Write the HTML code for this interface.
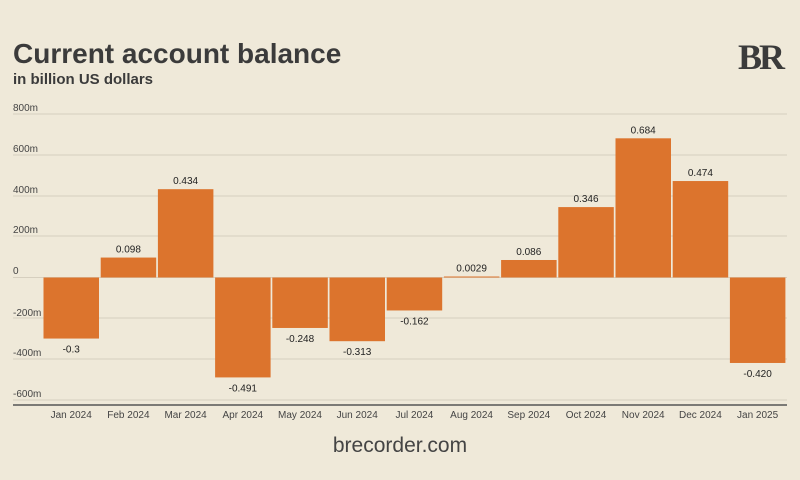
<!DOCTYPE html>
<html><head><style>
body{margin:0;background:#efe9d9;}
svg{display:block;font-family:"Liberation Sans",sans-serif;}
</style></head><body>
<svg width="800" height="480" viewBox="0 0 800 480">
<rect width="800" height="480" fill="#efe9d9"/>
<text x="13" y="63" font-size="28" font-weight="bold" fill="#3b3b3b">Current account balance</text>
<text x="13" y="84" font-size="15" font-weight="bold" fill="#3b3b3b">in billion US dollars</text>
<text x="738" y="69" font-family="Liberation Serif,serif" font-size="36" font-weight="bold" fill="#3b3b3b" letter-spacing="-3">BR</text>
<g stroke="#d6cfbf" stroke-width="1">
<line x1="13" x2="787" y1="114" y2="114"/><line x1="13" x2="787" y1="155" y2="155"/>
<line x1="13" x2="787" y1="196" y2="196"/><line x1="13" x2="787" y1="236" y2="236"/>
<line x1="13" x2="787" y1="277.5" y2="277.5"/><line x1="13" x2="787" y1="318" y2="318"/>
<line x1="13" x2="787" y1="359" y2="359"/><line x1="13" x2="787" y1="400" y2="400"/>
</g>
<line x1="13" x2="787" y1="405" y2="405" stroke="#555" stroke-width="1.5"/>
<g font-size="10" fill="#444">
<text x="13" y="111">800m</text><text x="13" y="152">600m</text><text x="13" y="193">400m</text>
<text x="13" y="233">200m</text><text x="13" y="274">0</text><text x="13" y="316">-200m</text>
<text x="13" y="356">-400m</text><text x="13" y="397">-600m</text>
</g>
<g fill="#dc742d" id="bars"></g>
<g id="labels" font-size="10" fill="#222" text-anchor="middle"></g>
<g id="xl" font-size="10" fill="#444" text-anchor="middle"></g>
<text x="400" y="452" font-size="21" fill="#444" text-anchor="middle">brecorder.com</text>
</svg>
<script>
var v=[-0.3,0.098,0.434,-0.491,-0.248,-0.313,-0.162,0.0029,0.086,0.346,0.684,0.474,-0.420];
var l=["-0.3","0.098","0.434","-0.491","-0.248","-0.313","-0.162","0.0029","0.086","0.346","0.684","0.474","-0.420"];
var m=["Jan 2024","Feb 2024","Mar 2024","Apr 2024","May 2024","Jun 2024","Jul 2024","Aug 2024","Sep 2024","Oct 2024","Nov 2024","Dec 2024","Jan 2025"];
var ns="http://www.w3.org/2000/svg",z=277.5,k=0.2035;
function el(t,a,p,txt){var e=document.createElementNS(ns,t);for(var q in a)e.setAttribute(q,a[q]);if(txt)e.textContent=txt;document.getElementById(p).appendChild(e);}
for(var i=0;i<13;i++){var x=43.5+57.2*i,h=Math.max(Math.abs(v[i])*1000*k,1),y=v[i]>=0?z-h:z;
el("rect",{x:x,y:y,width:55.5,height:h},"bars");
el("text",{x:x+27.7,y:v[i]>=0?y-5:y+h+14},"labels",l[i]);
el("text",{x:x+27.7,y:418},"xl",m[i]);}
</script>
</body></html>
